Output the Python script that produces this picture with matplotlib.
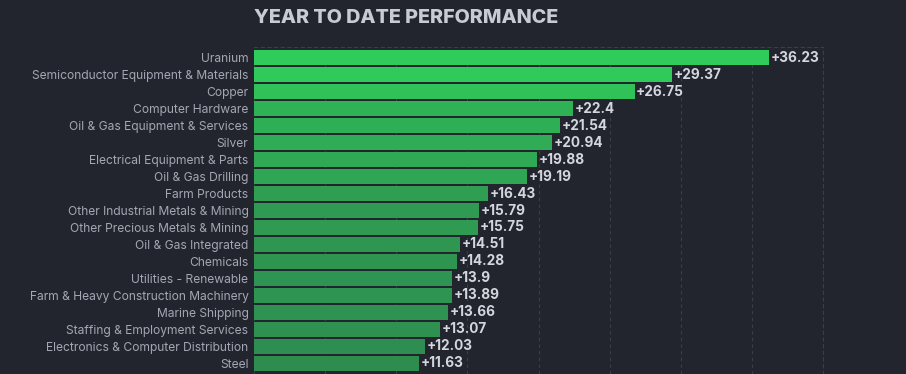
import matplotlib.pyplot as plt
import matplotlib.colors as mcolors
import numpy as np

plt.rcParams['font.family'] = ['Inter', 'DejaVu Sans']

# industry year-to-date performance, percent
industries = [
    'Uranium', 'Semiconductor Equipment & Materials', 'Copper',
    'Computer Hardware', 'Oil & Gas Equipment & Services', 'Silver',
    'Electrical Equipment & Parts', 'Oil & Gas Drilling', 'Farm Products',
    'Other Industrial Metals & Mining', 'Other Precious Metals & Mining',
    'Oil & Gas Integrated', 'Chemicals', 'Utilities - Renewable',
    'Farm & Heavy Construction Machinery', 'Marine Shipping',
    'Staffing & Employment Services', 'Electronics & Computer Distribution',
    'Steel',
]
perf = [36.23, 29.37, 26.75, 22.4, 21.54, 20.94, 19.88, 19.19, 16.43,
        15.79, 15.75, 14.51, 14.28, 13.9, 13.89, 13.66, 13.07, 12.03, 11.63]

bg = '#22252d'
cmap = mcolors.LinearSegmentedColormap.from_list('grn', ['#2e8a4f', '#30cc5a'])
norm = mcolors.Normalize(vmin=11, vmax=30, clip=True)

fig = plt.figure(figsize=(9.06, 3.74), dpi=100, facecolor=bg)
ax = fig.add_axes([254 / 906, 0, (823 - 254) / 906, (374 - 47) / 374])
ax.set_facecolor(bg)

y = np.arange(len(industries))
ax.barh(y, perf, height=0.9, color=[cmap(norm(v)) for v in perf], zorder=2)

for yi, v in zip(y, perf):
    ax.text(v + 0.12, yi, f'+{v:g}', va='center', ha='left', fontsize=9.8,
            fontweight='bold', color='#d4d6de', zorder=3)

ax.set_xlim(0, 40)
ax.set_ylim(18.62, -0.62)
ax.set_yticks(y)
ax.set_yticklabels(industries, fontsize=8.7, color='#a3a7b3')
ax.tick_params(axis='y', length=0, pad=4)
ax.set_xticks(np.arange(0, 41, 5))
ax.tick_params(axis='x', length=0, labelbottom=False)
ax.grid(axis='x', color='#3a3e48', linestyle=(0, (3, 3)), linewidth=0.8, zorder=0)

for side in ['left', 'bottom']:
    ax.spines[side].set_visible(False)
for side in ['top', 'right']:
    ax.spines[side].set_color('#3a3e48')
    ax.spines[side].set_linestyle((0, (3, 3)))
    ax.spines[side].set_linewidth(0.8)

fig.text(254 / 906, 1 - 18 / 374, 'YEAR TO DATE PERFORMANCE', ha='left', va='center',
         fontsize=14.2, fontweight='heavy', color='#c9cbd4')

fig.savefig('out.png', dpi=100, facecolor=bg)
